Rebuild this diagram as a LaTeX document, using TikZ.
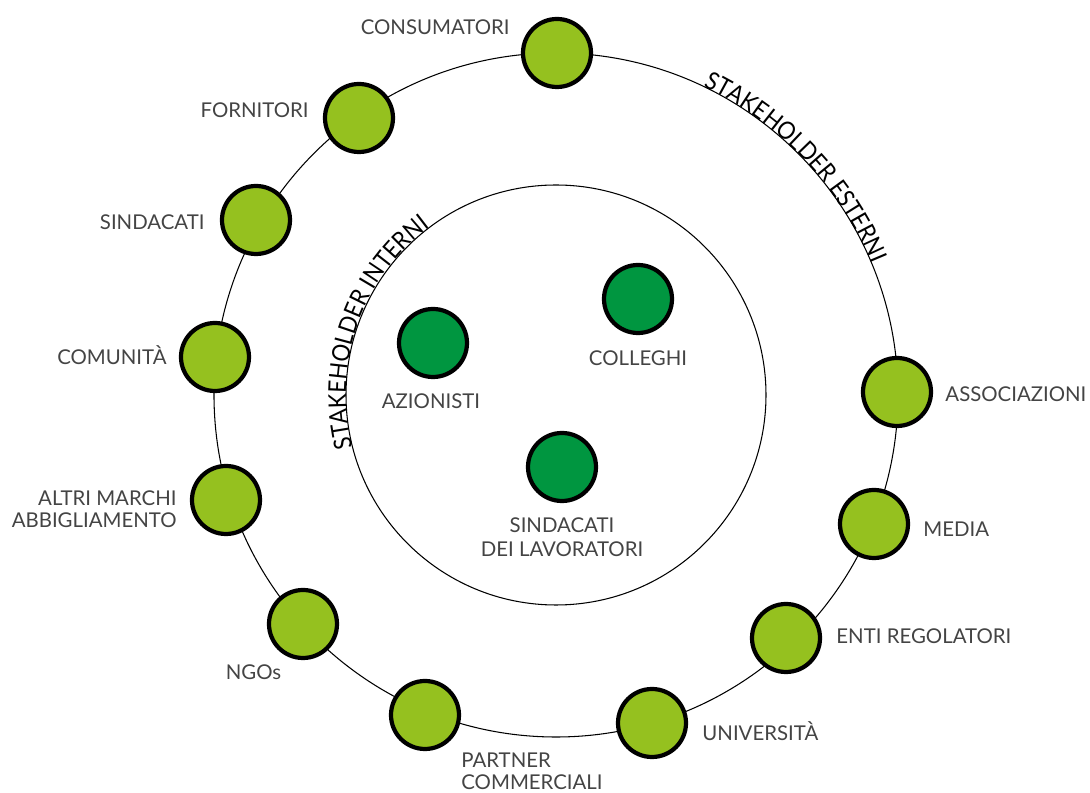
\documentclass[tikz,border=0pt]{standalone}
\usepackage{fontspec}
\setmainfont{Lato}
\newfontfamily\ringfont{Lato}[FakeStretch=0.9]
\usetikzlibrary{positioning,decorations.text}
\definecolor{extgreen}{RGB}{149,193,31}
\definecolor{intgreen}{RGB}{0,150,64}
\definecolor{lblgray}{RGB}{68,68,68}

\begin{document}
\begin{tikzpicture}[
    ext/.style={circle,draw=black,line width=2.4pt,fill=extgreen,minimum size=1.36cm,inner sep=0pt},
    int/.style={ext,fill=intgreen},
    lbl/.style={inner sep=0pt,text=lblgray,font=\fontsize{11.6}{12.5}\selectfont,text height=8.3pt,text depth=0pt},
    lbls/.style={inner sep=0pt,text=lblgray,font=\fontsize{11.6}{12.5}\selectfont},
    ringtext/.style={decorate,decoration={text along path,text align=center,
        text={|\ringfont\fontsize{14}{16}\selectfont|#1}}}
]
    \useasboundingbox (-11.12,-7.96) rectangle (10.68,7.90);

    %! --- Rings ---
    \draw[line width=0.6pt] (0,0) circle (6.84);
    \draw[line width=0.6pt] (0,0) circle (4.2);
    \path[ringtext=STAKEHOLDER ESTERNI] (70:6.84) arc (70:17:6.84);
    \path[ringtext=STAKEHOLDER INTERNI] (200.6:4.2) arc (200.6:120.6:4.2);

    % External stakeholders (on the outer ring)
    \foreach \n/\x/\y in {c1/0.02/6.84, c2/-3.94/5.54, c3/-6.00/3.50, c4/-6.82/0.76,
                          c5/-6.60/-2.10, c6/-5.06/-4.58, c7/-2.62/-6.40, c8/1.92/-6.56,
                          c9/4.60/-4.86, c10/6.36/-2.58, c11/6.82/0.06} {
        \node[ext] (\n) at (\x,\y) {};
    }
    % Internal stakeholders
    \foreach \n/\x/\y in {a1/-2.46/1.04, a2/1.64/1.92, a3/0.12/-1.44} {
        \node[int] (\n) at (\x,\y) {};
    }

    % Labels (left side)
    \node[lbl,left=0.22cm of c1,yshift=0.52cm] (t1) {CONSUMATORI};
    \node[lbl,left=0.28cm of c2,yshift=0.16cm] (t2) {FORNITORI};
    \node[lbl,left=0.30cm of c3,yshift=-0.04cm] (t3) {SINDACATI};
    \node[lbl,left=0.24cm of c4] (t4) {COMUNITÀ};
    \node[lbls,align=right,left=0.26cm of c5,yshift=-0.19cm] (t5) {ALTRI MARCHI\\ABBIGLIAMENTO};
    \node[lbl,below=0.08cm of c6,xshift=-0.99cm] (t6) {NGOs};
    \node[lbls,align=left,below right=0.25cm and 0.21cm of c7] (t7) {PARTNER\\COMMERCIALI};
    % Labels (right side)
    \node[lbl,right=0.28cm of c8,yshift=-0.2cm] (t8) {UNIVERSITÀ};
    \node[lbl,right=0.28cm of c9,yshift=0.04cm] (t9) {ENTI REGOLATORI};
    \node[lbl,right=0.26cm of c10,yshift=-0.1cm] (t10) {MEDIA};
    \node[lbl,right=0.24cm of c11,yshift=-0.04cm] (t11) {ASSOCIAZIONI};
    % Labels (inside)
    \node[lbl,below=0.28cm of a1,xshift=-0.04cm] (n1) {AZIONISTI};
    \node[lbl,below=0.30cm of a2] (n2) {COLLEGHI};
    \node[lbls,align=center,below=0.28cm of a3] (n3) {SINDACATI\\[1.1pt]DEI LAVORATORI};
\end{tikzpicture}
\end{document}
